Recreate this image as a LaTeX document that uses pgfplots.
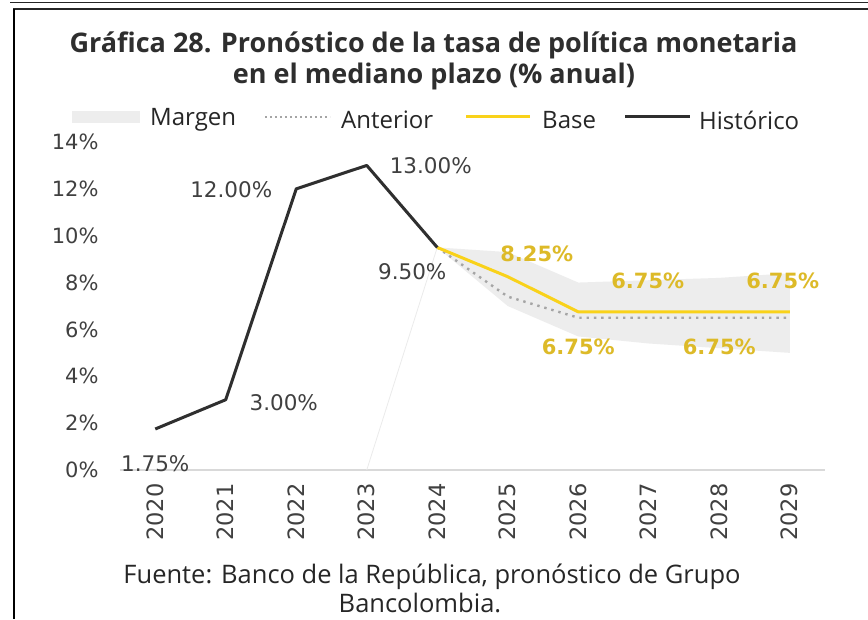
\documentclass[border=0pt]{standalone}
\usepackage{pgfplots}
\pgfplotsset{compat=1.18}
\usepackage{fontspec}
\setmainfont{DejaVu Sans}
\newfontfamily\titlefont{Open Sans}
\newfontfamily\srcfont{Open Sans}
\definecolor{histc}{HTML}{2F2F2F}
\definecolor{basec}{HTML}{F9D21A}
\definecolor{labc}{HTML}{DDBA28}
\definecolor{antc}{HTML}{A5A5A5}
\definecolor{bandc}{HTML}{EDEDED}
\definecolor{txtc}{HTML}{404040}
\begin{document}
\begin{tikzpicture}[x=1pt,y=1pt]
\useasboundingbox (0,0) rectangle (868,619);
\fill[white] (0,0) rectangle (868,619);
\draw[line width=1.6pt, black!85] (10,616.5) -- (868,616.5);
\draw[line width=1.8pt, black!85] (13,609.8) -- (868,609.8);
\draw[line width=2.6pt, black] (14,609.8) -- (14,0);
% title
\node[font=\titlefont\bfseries\fontsize{27}{32}\selectfont, text=black!82] at (433.5,574) {Gráfica 28. Pronóstico de la tasa de política monetaria};
\node[font=\titlefont\bfseries\fontsize{27}{32}\selectfont, text=black!82] at (434,543) {en el mediano plazo (\% anual)};
% legend
\begin{scope}[every node/.style={anchor=west, font=\srcfont\fontsize{24}{28}\selectfont, text=black!85, inner sep=0pt}]
\fill[bandc] (72,495.5) rectangle (140,508);
\node at (150,499) {Margen};
\draw[antc, line width=2pt, dash pattern=on 2pt off 3pt] (265,502) -- (330,502);
\node at (341,499) {Anterior};
\draw[basec, line width=3pt] (466,502) -- (530,502);
\node at (542,499) {Base};
\draw[histc, line width=3pt] (625,502) -- (690,502);
\node at (699,499) {Histórico};
\end{scope}
\begin{axis}[at={(120pt,149pt)}, anchor=south west, scale only axis,
  width=705pt, height=328pt, xmin=-0.5, xmax=9.5, ymin=0, ymax=14, clip=false,
  axis x line=bottom, axis y line=left,
  x axis line style={draw=black!15, line width=1.2pt, -},
  y axis line style={draw=none},
  major tick length=0pt,
  xtick={0,1,2,3,4,5,6,7,8,9},
  xticklabels={2020,2021,2022,2023,2024,2025,2026,2027,2028,2029},
  ytick={0,2,4,6,8,10,12,14},
  /pgf/number format/assume math mode=true,
  yticklabel={\pgfmathprintnumber[precision=0]{\tick}\%},
  yticklabel style={font=\fontsize{21}{25}\selectfont, text=txtc, xshift=-18pt},
  xticklabel style={rotate=90, anchor=east, font=\fontsize{22.5}{26}\selectfont, text=txtc, xshift=-10pt},
  line join=round]
\addplot[draw=none, fill=bandc] coordinates {(4,9.5)(5,9.3)(6,8.0)(7,8.1)(8,8.2)(9,8.4)(9,5.0)(8,5.2)(7,5.4)(6,5.7)(5,7.0)(4,9.5)} -- cycle;
\addplot[black!8, line width=0.8pt] coordinates {(3,0) (4,9.5)};
\addplot[antc, line width=2.4pt, dash pattern=on 2.4pt off 4.9pt] coordinates {(4,9.5)(5,7.4)(6,6.5)(7,6.5)(8,6.5)(9,6.5)};
\addplot[basec, line width=3pt] coordinates {(4,9.5)(5,8.25)(6,6.75)(7,6.75)(8,6.75)(9,6.75)};
\addplot[histc, line width=3pt] coordinates {(0,1.75)(1,3)(2,12)(3,13)(4,9.5)};
% labels
\begin{scope}[every node/.style={font=\fontsize{21.5}{25}\selectfont, text=txtc, inner sep=0pt}]
\node[xshift=0pt, yshift=-35pt] at (axis cs:0,1.75) {1.75\%};
\node[xshift=58pt, yshift=-3pt] at (axis cs:1,3) {3.00\%};
\node[xshift=-65pt, yshift=-1pt] at (axis cs:2,12) {12.00\%};
\node[xshift=64pt, yshift=0pt] at (axis cs:3,13) {13.00\%};
\node[xshift=-25pt, yshift=-24pt] at (axis cs:4,9.5) {9.50\%};
\end{scope}
\begin{scope}[every node/.style={font=\bfseries\fontsize{21}{25}\selectfont, text=labc, inner sep=0pt}]
\node[xshift=29pt, yshift=23pt] at (axis cs:5,8.25) {8.25\%};
\node[xshift=-1pt, yshift=31pt] at (axis cs:7,6.75) {6.75\%};
\node[xshift=-7pt, yshift=31pt] at (axis cs:9,6.75) {6.75\%};
\node[xshift=0pt, yshift=-35pt] at (axis cs:6,6.75) {6.75\%};
\node[xshift=0pt, yshift=-35pt] at (axis cs:8,6.75) {6.75\%};
\end{scope}
\end{axis}
% source
\node[font=\srcfont\fontsize{25.5}{30}\selectfont, text=black!85] at (432,42) {Fuente: Banco de la República, pronóstico de Grupo};
\node[font=\srcfont\fontsize{25.5}{30}\selectfont, text=black!85, inner sep=0pt] at (420,16) {Bancolombia.};
\end{tikzpicture}
\end{document}
